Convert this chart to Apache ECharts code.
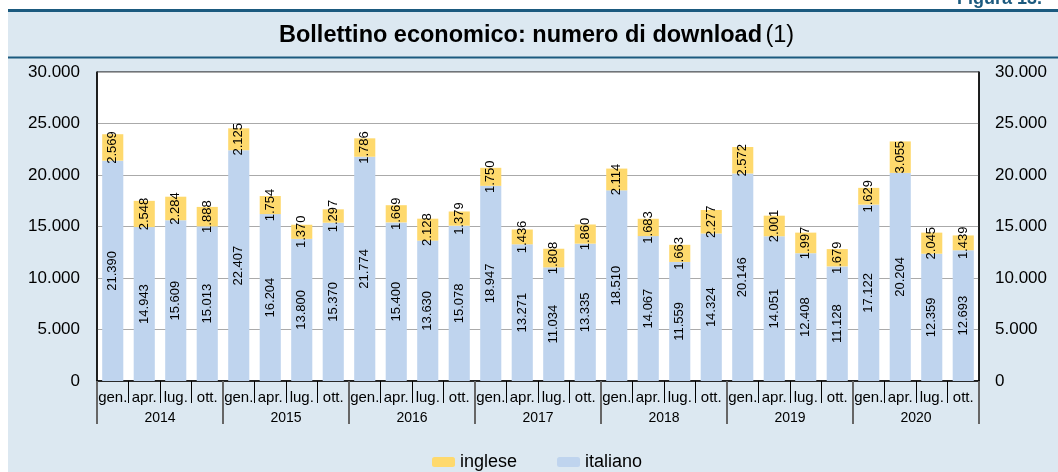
<!DOCTYPE html>
<html>
<head>
<meta charset="utf-8">
<script src="https://cdn.jsdelivr.net/npm/echarts@6/dist/echarts.min.js"></script>
<style>
html,body{margin:0;padding:0;background:#fff;}
#c{width:1058px;height:472px;}
</style>
</head>
<body>
<div id="c"></div>
<script>
var months = ['gen.','apr.','lug.','ott.','gen.','apr.','lug.','ott.','gen.','apr.','lug.','ott.','gen.','apr.','lug.','ott.','gen.','apr.','lug.','ott.','gen.','apr.','lug.','ott.','gen.','apr.','lug.','ott.'];
var years = ['2014','2015','2016','2017','2018','2019','2020'];
var italiano = [21390,14943,15609,15013,22407,16204,13800,15370,21774,15400,13630,15078,18947,13271,11034,13335,18510,14067,11559,14324,20146,14051,12408,11128,17122,20204,12359,12693];
var inglese = [2569,2548,2284,1888,2125,1754,1370,1297,1786,1669,2128,1379,1750,1436,1808,1860,2114,1683,1663,2277,2572,2001,1997,1679,1629,3055,2045,1439];

function fmt(v){
  var s = String(Math.round(v));
  return s.replace(/\B(?=(\d{3})+(?!\d))/g, '.');
}
var FONT = '"Liberation Sans", Arial, Helvetica, sans-serif';
var chart = echarts.init(document.getElementById('c'), null, {renderer:'canvas'});
var barLabel = {show:true, position:'inside', rotate:90, fontSize:13, color:'#000', fontFamily:FONT,
  formatter:function(p){return fmt(p.value);}};
chart.setOption({
  animation:false,
  textStyle:{fontFamily:FONT},
  graphic:[
    {type:'rect', shape:{x:8,y:11,width:1050,height:461}, style:{fill:'#dce8f1'}, z:-10},
    {type:'rect', shape:{x:8,y:9,width:1050,height:3}, style:{fill:'#1b5a7f'}, z:-5},
    {type:'rect', shape:{x:8,y:56.5,width:1050,height:2}, style:{fill:'#1b5a7f'}, z:-5},
    {type:'text', left:957, top:-10, style:{text:'Figura 13.', font:'bold 18px '+FONT, fill:'#1b5a7f'}},
    {type:'text', left:279, top:24, style:{
      rich:{b:{fontWeight:'bold',fontSize:23.5,fontFamily:FONT,fill:'#000'}, n:{fontSize:23.5,fontFamily:FONT,fill:'#000'}},
      text:'{b|Bollettino economico: numero di download} {n|(1)}', fill:'#000'}}
  ],
  legend:{
    left:427, top:448, itemWidth:23, itemHeight:10, itemGap:40,
    textStyle:{fontSize:18, color:'#000', fontFamily:FONT, padding:[0,0,0,0]},
    data:['inglese','italiano']
  },
  grid:{left:97, right:79, top:72, bottom:91, show:true, backgroundColor:'#fff', borderColor:'#000', borderWidth:1, containLabel:false},
  xAxis:[
    {type:'category', data:months, position:'bottom', boundaryGap:true,
     axisLine:{show:true, lineStyle:{color:'#000', width:1.5}},
     axisTick:{show:true, interval:0, length:22, lineStyle:{color:'#000', width:1}},
     axisLabel:{interval:0, fontSize:15, color:'#000', margin:9, fontFamily:FONT}},
    {type:'category', data:years, position:'bottom', boundaryGap:true,
     axisLine:{show:false},
     axisTick:{show:true, interval:0, length:43, lineStyle:{color:'#666', width:2}},
     axisLabel:{interval:0, fontSize:14, color:'#000', margin:30, fontFamily:FONT}}
  ],
  yAxis:[
    {type:'value', min:0, max:30000, interval:5000, position:'left',
     axisLine:{show:true, lineStyle:{color:'#000', width:1.5}}, axisTick:{show:false},
     splitLine:{show:true, lineStyle:{color:'#aaa', width:1}},
     axisLabel:{fontSize:17, color:'#000', margin:17, formatter:fmt, fontFamily:FONT}},
    {type:'value', min:0, max:30000, interval:5000, position:'right',
     axisLine:{show:true, lineStyle:{color:'#000', width:1.5}}, axisTick:{show:false},
     splitLine:{show:false},
     axisLabel:{fontSize:17, color:'#000', margin:16, formatter:fmt, fontFamily:FONT}}
  ],
  series:[
    {name:'italiano', type:'bar', stack:'t', data:italiano, barWidth:'67%', xAxisIndex:0, yAxisIndex:0,
     itemStyle:{color:'#bfd4ee'}, label:barLabel},
    {name:'inglese', type:'bar', stack:'t', data:inglese, barWidth:'67%', xAxisIndex:0, yAxisIndex:0,
     itemStyle:{color:'#fed96d'}, label:barLabel}
  ]
});
</script>
</body>
</html>
